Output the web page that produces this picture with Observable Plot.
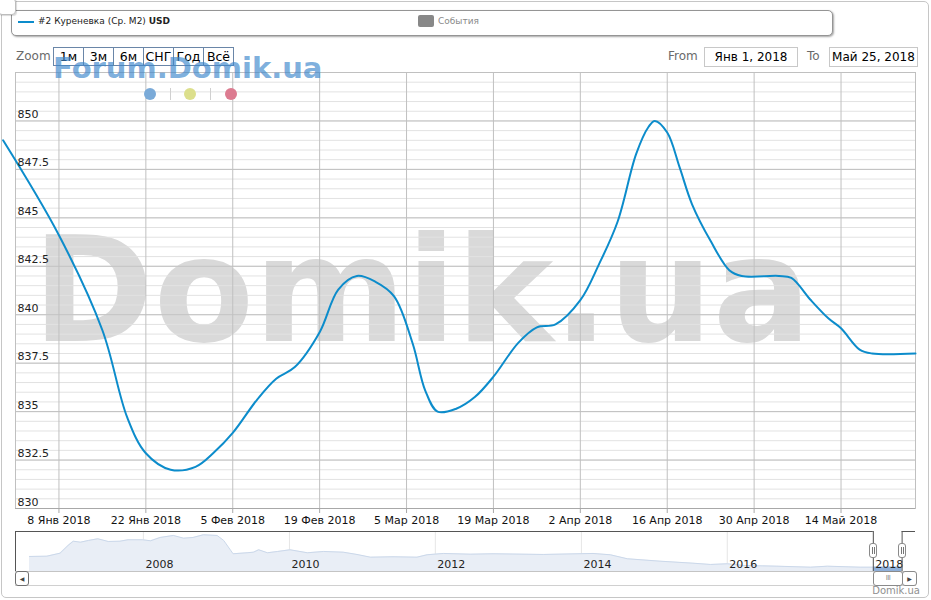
<!DOCTYPE html>
<html><head><meta charset="utf-8">
<script src="https://cdn.jsdelivr.net/npm/d3@7"></script>
<script src="https://cdn.jsdelivr.net/npm/@observablehq/plot@0.6"></script>
<style>
body{margin:0;background:#fff;font-family:"DejaVu Sans",sans-serif;}
#wrap{position:relative;width:931px;height:600px;overflow:hidden;background:#fff;}
.abs{position:absolute;box-sizing:border-box;}
.btn{position:absolute;top:47px;height:19px;width:31px;border:1px solid #6a86a8;font-size:12.5px;color:#000;text-align:center;line-height:17px;background:#fff;box-sizing:border-box;}
.inp{position:absolute;top:47px;height:20px;border:1px solid #c8c8c8;font-size:12px;color:#000;text-align:center;line-height:18px;box-sizing:border-box;background:#fff;}
.lbl{position:absolute;font-size:12px;color:#6a6a6a;}
svg{position:absolute;left:0;}
</style></head><body><div id="wrap"></div><script>
// ---- main series (Куреневка, Ср. M2, USD) ----
const dates = ["2017-12-30","2018-01-08","2018-01-15","2018-01-19","2018-01-22","2018-01-26","2018-01-30","2018-02-02","2018-02-05","2018-02-09","2018-02-12","2018-02-15","2018-02-19","2018-02-22","2018-02-25","2018-02-28","2018-03-03","2018-03-06","2018-03-08","2018-03-10","2018-03-13","2018-03-16","2018-03-19","2018-03-23","2018-03-26","2018-03-29","2018-04-02","2018-04-05","2018-04-08","2018-04-11","2018-04-13","2018-04-14","2018-04-16","2018-04-18","2018-04-20","2018-04-23","2018-04-26","2018-04-28","2018-05-04","2018-05-06","2018-05-09","2018-05-12","2018-05-14","2018-05-17","2018-05-19","2018-05-26"];
const values = [849.0,844.1,839.2,834.7,832.85,832.0,832.15,832.9,833.9,835.65,836.7,837.3,839.1,841.3,842.0,841.7,840.95,838.5,836.1,835.0,835.15,835.75,836.8,838.55,839.35,839.5,840.75,842.6,844.8,848.3,849.7,850.0,849.4,847.6,845.7,843.8,842.3,842.0,842.0,841.9,840.8,839.8,839.3,838.2,838.0,838.0];

// ---- axes ----
const xTickDates = ["2018-01-08","2018-01-22","2018-02-05","2018-02-19","2018-03-05","2018-03-19","2018-04-02","2018-04-16","2018-04-30","2018-05-14"];
const xTickLabels = ["8 Янв 2018","22 Янв 2018","5 Фев 2018","19 Фев 2018","5 Мар 2018","19 Мар 2018","2 Апр 2018","16 Апр 2018","30 Апр 2018","14 Май 2018"];
const yTicks = [830,832.5,835,837.5,840,842.5,845,847.5,850];
const yTickLabels = ["830","832.5","835","837.5","840","842.5","845","847.5","850"];
const yMinorStep = 0.5;
const xDomain = ["2018-01-01","2018-05-26"];
const yDomain = [830,852.5];

// ---- navigator series ----
const navDates = ["2006-06-10","2006-09-05","2006-11-10","2006-12-20","2007-01-15","2007-02-20","2007-04-01","2007-05-18","2007-07-09","2007-09-06","2007-10-16","2007-12-28","2008-02-06","2008-03-25","2008-05-30","2008-07-20","2008-09-06","2008-10-27","2009-01-04","2009-02-06","2009-03-25","2009-06-03","2009-07-05","2009-07-31","2009-09-13","2009-11-03","2010-01-04","2010-04-01","2010-06-21","2010-09-27","2010-12-05","2011-02-10","2011-06-03","2011-10-01","2011-11-21","2012-02-10","2012-06-24","2012-10-16","2013-06-24","2014-02-28","2014-05-26","2014-08-19","2015-01-30","2015-07-13","2015-10-09","2016-01-01","2016-03-22","2016-09-06","2017-02-21","2017-05-16","2017-10-27","2018-05-25"];
const navValues = [1427,1443,1608,2032,2268,2213,2307,2400,2252,2268,2345,2345,2290,2472,2582,2433,2472,2620,2582,2307,1575,1630,1663,1795,1630,1702,1795,1630,1702,1663,1537,1388,1410,1388,1520,1592,1553,1575,1537,1592,1520,1300,1168,1058,987,1025,932,893,838,893,838,838];
const navYearTicks = ["2008-01-01","2010-01-01","2012-01-01","2014-01-01","2016-01-01","2018-01-01"];
const navYearLabels = ["2008","2010","2012","2014","2016","2018"];
const navDomain = ["2006-04-01","2018-07-31"];
const navYDomain = [600,2800];
const selRange = ["2018-01-01","2018-05-25"];

const zoomButtons = ["1м","3м","6м","СНГ","Год","Всё"];
const fromText = "Янв 1, 2018", toText = "Май 25, 2018";
const seriesName = "#2 Куреневка (Ср. M2) ", seriesUnit = "USD", eventsName = "События";
const LINE = "#0c8ccb";

const D = s => new Date(s);
const series = dates.map((d,i)=>({date:D(d), value:values[i]}));
const navSeries = navDates.map((d,i)=>({date:D(d), value:navValues[i]}));
const xTicks = xTickDates.map(D);
const labelMap = new Map(xTicks.map((d,i)=>[+d, xTickLabels[i]]));
const minorY = d3.range(yDomain[0], yDomain[1]+1e-9, yMinorStep);
const navTicks = navYearTicks.map(D);
const navLabelMap = new Map(navTicks.map((d,i)=>[+d, navYearLabels[i]]));
const selStart = D(selRange[0]), selEnd = D(selRange[1]);
const navStart = D(navDomain[0]), navEnd = D(navDomain[1]);

const wrap = document.getElementById("wrap");
function el(tag, cls, style, html){const e=document.createElement(tag); if(cls) e.className=cls; Object.assign(e.style, style||{}); if(html!=null) e.innerHTML=html; wrap.appendChild(e); return e;}

// outer container border
el("div","abs",{left:"1px",top:"1px",width:"928px",height:"597px",border:"1px solid #c6c6c6",borderRadius:"5px"});

const main = Plot.plot({
  width:931, height:530, marginTop:72, marginBottom:22, marginLeft:15, marginRight:16,
  style:{fontFamily:"DejaVu Sans", fontSize:"11px", background:"transparent", overflow:"visible"},
  x:{type:"utc", domain:xDomain.map(D)},
  y:{domain:yDomain, axis:null},
  marks:[
    Plot.text(["Domik.ua"], {frameAnchor:"left", dx:17, dy:50, lineAnchor:"bottom", textAnchor:"start", fontSize:146, fontWeight:"bold", fill:"#d9d9d9", fontFamily:"DejaVu Sans"}),
    Plot.ruleY(minorY, {stroke:"#e2e2e2", strokeWidth:1}),
    Plot.ruleY(yTicks, {stroke:"#c0c0c0", strokeWidth:1}),
    Plot.ruleX(xTicks, {stroke:"#c0c0c0", strokeWidth:1}),
    Plot.frame({stroke:"#c0c0c0"}),
    Plot.ruleY([yDomain[0]], {stroke:"#a8a8a8"}),
    Plot.line(series, {x:"date", y:"value", stroke:LINE, strokeWidth:2, curve:"catmull-rom"}),
    Plot.text(yTicks, {y:d=>d, text:(d,i)=>yTickLabels[i], frameAnchor:"left", dx:2, dy:-3, lineAnchor:"bottom", textAnchor:"start", fill:"#222", fontSize:11}),
    Plot.axisX({ticks:xTicks, tickFormat:d=>labelMap.get(+d), tickSize:5, tickPadding:3, stroke:"#a8a8a8", fill:"#111", fontSize:11, label:null})
  ]
});
main.style.top = "0px";
wrap.appendChild(main);

const nav = Plot.plot({
  width:931, height:46, marginTop:6, marginBottom:0, marginLeft:15, marginRight:16,
  style:{fontFamily:"DejaVu Sans", fontSize:"11px", background:"transparent", overflow:"visible"},
  x:{type:"utc", domain:[navStart, navEnd], axis:null},
  y:{domain:navYDomain, axis:null},
  marks:[
    Plot.ruleX(navTicks, {stroke:"#e6e6e6"}),
    Plot.areaY(navSeries, {x:"date", y:"value", fill:"#e9eef6", clip:true}),
    Plot.line(navSeries, {x:"date", y:"value", stroke:"#cbd8ea", strokeWidth:1}),
    Plot.rect([0], {x1:()=>selStart, x2:()=>selEnd, y1:()=>navYDomain[0], y2:()=>navValues[navValues.length-1], fill:"#8fb0da"}),
    Plot.text(navTicks, {x:d=>d, text:d=>navLabelMap.get(+d), frameAnchor:"bottom", dx:2, dy:-4, lineAnchor:"bottom", textAnchor:"start", fill:"#222", fontSize:11}),
    Plot.ruleY([navYDomain[0]], {stroke:"#c4c4c4"}),
    Plot.ruleX([navStart], {stroke:"#555"}),
    Plot.ruleY([navYDomain[1]], {x1:()=>navStart, x2:()=>selStart, stroke:"#555"}),
    Plot.ruleY([navYDomain[1]], {x1:()=>selEnd, x2:()=>navEnd, stroke:"#555"}),
    Plot.ruleX([selStart, selEnd], {stroke:"#555"})
  ]
});
nav.style.top = "525px";
wrap.appendChild(nav);

const sx = nav.scale("x");
const hx1 = Math.round(sx.apply(selStart)), hx2 = Math.round(sx.apply(selEnd));
// handles
[hx1, hx2].forEach(h=>{
  el("div","abs",{left:(h-4)+"px",top:"543px",width:"8px",height:"15px",border:"1px solid #8a8a8a",borderRadius:"3px",background:"#fff"},
     '<div style="position:absolute;left:1.5px;top:3px;width:1px;height:7px;background:#777"></div><div style="position:absolute;left:3.5px;top:3px;width:1px;height:7px;background:#777"></div>');
});
// scrollbar
el("div","abs",{left:"15px",top:"571px",width:"901px",height:"15px",borderBottom:"1px solid #d0d0d0"});
el("div","abs",{left:"15px",top:"571px",width:"14px",height:"15px",border:"1px solid #707070",borderRadius:"3px",background:"#fff",fontSize:"6px",lineHeight:"13px",textAlign:"center",color:"#444"},"◀");
el("div","abs",{left:hx1+"px",top:"571px",width:(hx2-hx1+1)+"px",height:"15px",border:"1px solid #8a8a8a",borderRadius:"3px",background:"#fff",fontSize:"7px",lineHeight:"13px",textAlign:"center",color:"#888",letterSpacing:"-0.5px"},"III");
el("div","abs",{left:hx2+"px",top:"571px",width:"15px",height:"15px",border:"1px solid #8a8a8a",borderRadius:"3px",background:"#fff",fontSize:"6px",lineHeight:"13px",textAlign:"center",color:"#444"},"▶");
el("div","abs",{right:"11px",top:"585px",fontSize:"10px",color:"#909090"},"Domik.ua");

// legend box
el("div","abs",{left:"11px",top:"10px",width:"822px",height:"26px",border:"1px solid #959595",borderRadius:"5px",boxShadow:"1px 1px 2px rgba(0,0,0,0.35)",background:"#fff"});
el("div","abs",{left:"18px",top:"21px",width:"16px",height:"2px",background:LINE});
el("div","abs",{left:"38px",top:"16px",fontSize:"9px",color:"#222",whiteSpace:"nowrap"}, seriesName.replace(/ /g,"&nbsp;")+'<b>'+seriesUnit+'</b>');
el("div","abs",{left:"418px",top:"15px",width:"16px",height:"12px",background:"#888",borderRadius:"2px"});
el("div","abs",{left:"438px",top:"16px",fontSize:"9px",color:"#8a8a8a"}, eventsName);
// tiny tab at top-left
el("div","abs",{left:"-2px",top:"-2px",width:"18px",height:"17px",border:"1px solid #bdbdbd",borderRadius:"4px",background:"#fff",boxShadow:"1px 1px 1px rgba(0,0,0,0.15)"});

// zoom row
el("div","lbl",{left:"16px",top:"49px"},"Zoom");
zoomButtons.forEach((b,i)=>{ el("div","btn",{left:(53+i*30)+"px"}, b); });
el("div","lbl",{left:"668px",top:"49px"},"From");
el("div","inp",{left:"704px",width:"94px"}, fromText);
el("div","lbl",{left:"807px",top:"49px"},"To");
el("div","inp",{left:"829px",width:"89px"}, toText);

// Forum watermark + dots on top
el("div","abs",{left:"53px",top:"50px",fontSize:"29px",fontWeight:"bold",color:"rgba(61,135,204,0.68)",whiteSpace:"nowrap",lineHeight:"36px"},"Forum.Domik.ua");
el("div","abs",{left:"144px",top:"88px",width:"12px",height:"12px",borderRadius:"50%",background:"#7aaad8"});
el("div","abs",{left:"170px",top:"88px",width:"1px",height:"12px",background:"#d0d0d0"});
el("div","abs",{left:"184px",top:"88px",width:"12px",height:"12px",borderRadius:"50%",background:"#dcdf8c"});
el("div","abs",{left:"210px",top:"88px",width:"1px",height:"12px",background:"#d0d0d0"});
el("div","abs",{left:"225px",top:"88px",width:"12px",height:"12px",borderRadius:"50%",background:"#dc7b90"});
</script></body></html>
